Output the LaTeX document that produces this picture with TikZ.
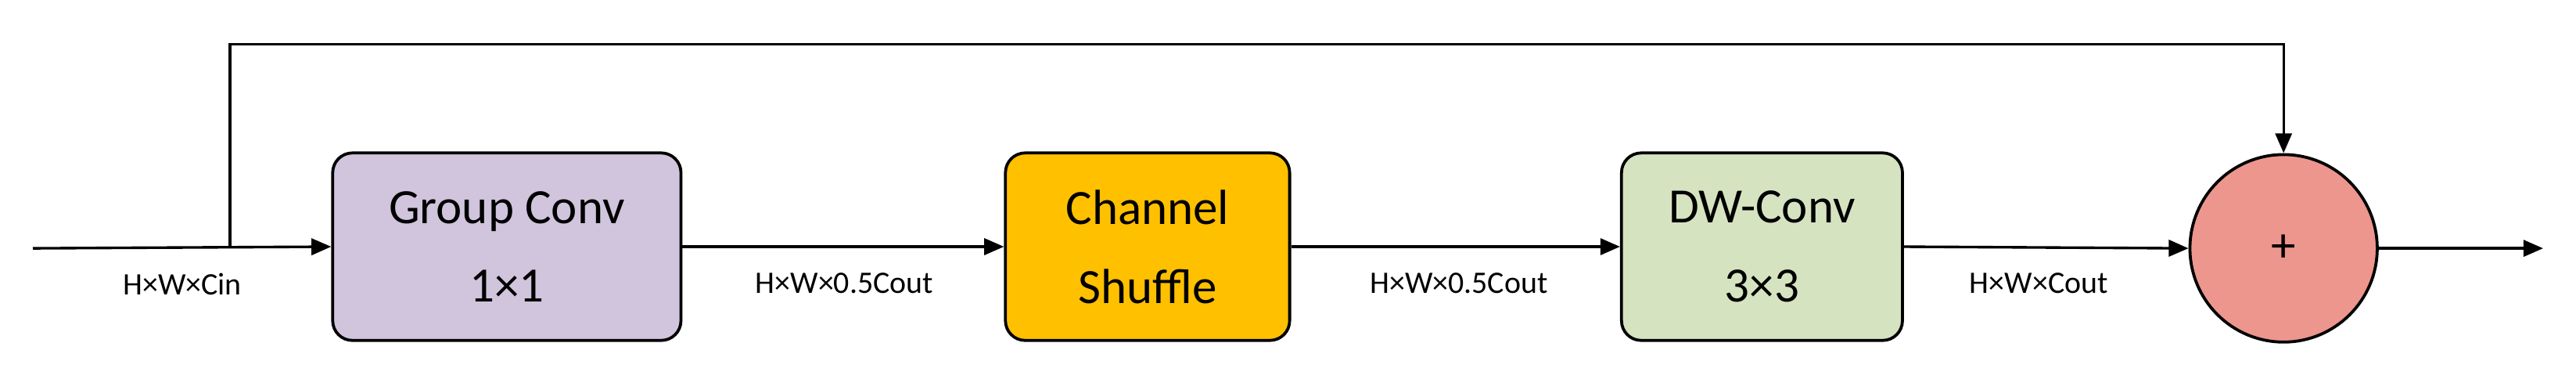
\documentclass[tikz,border=0pt]{standalone}
\usepackage{fontspec}
\setmainfont{Carlito}
\usetikzlibrary{arrows.meta}
\begin{document}
\begin{tikzpicture}[x=0.5pt,y=-0.5pt,
  box/.style={draw,line width=0.9pt,rounded corners=6pt,minimum width=106pt,minimum height=57pt,align=center,font=\fontsize{15}{24}\selectfont,inner sep=0pt},
  lab/.style={font=\fontsize{9.5}{11}\selectfont,anchor=north},
  arr/.style={line width=0.8pt,-{Triangle[length=6pt,width=5pt]}}]
\useasboundingbox (0,0) rectangle (1568,230);
\node[box,fill={rgb,255:red,209;green,196;blue,221}] (g) at (308.5,150) {Group Conv\\1×1};
\node[box,fill={rgb,255:red,255;green,192;blue,0},minimum width=86.5pt] (c) at (698.5,150) {Channel\\Shuffle};
\node[box,fill={rgb,255:red,213;green,227;blue,192},minimum width=85.5pt] (d) at (1072.5,150) {DW-Conv\\3×3};
\node[draw,circle,line width=0.9pt,fill={rgb,255:red,237;green,150;blue,141},minimum size=57pt,inner sep=0pt,font=\fontsize{15}{18}\selectfont] (p) at (1390,151) {+};
\coordinate (in) at (20,151);
\coordinate (br) at (140,151);
\coordinate (out) at (1548,151);
\draw[arr] (in) -- (g.west);
\draw[arr] (br) |- (1390,27) -- (p.north);
\draw[arr] (g.east) -- (c.west);
\draw[arr] (c.east) -- (d.west);
\draw[arr] (d.east) -- (p.west);
\draw[arr] (p.east) -- (out);
\node[lab] (l1) at (111,159) {H×W×Cin};
\node[lab] (l2) at (514,159) {H×W×0.5Cout};
\node[lab] (l3) at (888,159) {H×W×0.5Cout};
\node[lab] (l4) at (1241,159) {H×W×Cout};
\end{tikzpicture}
\end{document}
